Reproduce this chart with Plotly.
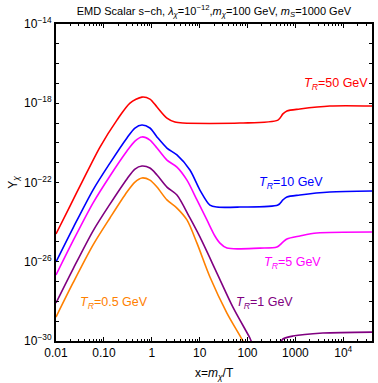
import numpy as np
import plotly.graph_objects as go

# log10(x) and log10(Y)
red_lx = [-2.0, -1.708, -1.436, -1.081, -0.727, -0.455, -0.205, -0.038, 0.109, 0.317, 0.484, 0.651,
          1.841, 2.635, 2.739, 2.823, 3.094, 3.720, 4.6]
red_ly = [-24.60, -23.19, -21.88, -20.21, -18.85, -17.99, -17.69, -17.79, -18.19, -18.75, -18.95, -19.00,
          -19.00, -18.85, -18.54, -18.39, -18.29, -18.14, -18.14]

blue_lx = [-2.0, -1.645, -1.228, -0.873, -0.518, -0.351, -0.205, -0.038, 0.109, 0.317, 0.526, 0.797,
           1.006, 1.215, 1.361, 1.841, 2.635, 2.739, 2.823, 3.094, 3.720, 4.6]
blue_ly = [-26.01, -24.30, -22.38, -21.02, -19.75, -19.25, -19.10, -19.25, -19.70, -20.26, -20.61, -21.37,
           -22.38, -23.14, -23.24, -23.24, -23.14, -22.88, -22.73, -22.63, -22.48, -22.43]

mag_lx = [-2.0, -1.645, -1.228, -0.873, -0.518, -0.351, -0.205, -0.038, 0.109, 0.317, 0.526, 0.735,
          0.944, 1.152, 1.319, 1.424, 1.570, 2.259, 2.614, 2.739, 2.823, 3.094, 3.449, 4.6]
mag_ly = [-26.67, -24.95, -23.04, -21.67, -20.41, -19.91, -19.70, -19.86, -20.26, -20.87, -21.22, -21.88,
          -22.88, -23.89, -24.70, -25.06, -25.31, -25.31, -25.26, -25.01, -24.85, -24.70, -24.55, -24.50]

pur_lx = [-2.0, -1.645, -1.228, -0.873, -0.518, -0.351, -0.205, -0.038, 0.109, 0.317, 0.526, 0.797,
          1.006, 1.361, 1.695, 2.050, 2.175, 2.635, 2.739, 2.948, 3.574, 4.6]
pur_ly = [-28.08, -26.37, -24.45, -23.09, -21.82, -21.32, -21.17, -21.27, -21.62, -22.23, -22.63, -23.79,
          -24.75, -26.57, -28.29, -29.85, -30.46, -30.25, -29.90, -29.75, -29.60, -29.55]

ora_lx = [-2.0, -1.645, -1.228, -0.873, -0.518, -0.351, -0.205, -0.038, 0.109, 0.317, 0.526, 0.735,
          0.944, 1.215, 1.570, 1.904, 2.154]
ora_ly = [-28.79, -27.07, -25.16, -23.79, -22.48, -21.98, -21.77, -21.88, -22.23, -22.88, -23.29, -23.89,
          -25.06, -26.77, -28.59, -30.00, -31.21]

curves = [
    ("T_R=50 GeV", red_lx, red_ly, "#FF0000"),
    ("T_R=10 GeV", blue_lx, blue_ly, "#0000FF"),
    ("T_R=5 GeV", mag_lx, mag_ly, "#FF00FF"),
    ("T_R=1 GeV", pur_lx, pur_ly, "#800080"),
    ("T_R=0.5 GeV", ora_lx, ora_ly, "#FF8000"),
]

# label text and where it sits (x, Y)
labels = [
    ("50 GeV", 7000, 10**-17.05, "#FF0000"),
    ("10 GeV", 800, 10**-22.05, "#0000FF"),
    ("5 GeV", 850, 10**-26.05, "#FF00FF"),
    ("1 GeV", 230, 10**-28.1, "#800080"),
    ("0.5 GeV", 0.16, 10**-28.1, "#FF8000"),
]

fig = go.Figure()
for name, lx, ly, col in curves:
    fig.add_trace(go.Scatter(x=10**np.array(lx), y=10**np.array(ly), mode="lines", name=name,
                             line=dict(color=col, width=1.6, shape="spline", smoothing=0.8)))

for txt, x, y, col in labels:
    fig.add_annotation(x=np.log10(x), y=np.log10(y), text="<i>T</i><sub><i>R</i></sub>=" + txt,
                       showarrow=False, font=dict(color=col, size=12.5))

# axis titles
fig.add_annotation(xref="paper", yref="paper", x=0.5, y=-0.105, yanchor="middle", showarrow=False,
                   text="x=<i>m</i><sub><i>\u03c7</i></sub>/T", font=dict(size=12))
fig.add_annotation(xref="paper", yref="paper", x=-0.135, y=0.5, xanchor="center", showarrow=False,
                   textangle=-90, text="Y<sub><i>\u03c7</i></sub>", font=dict(size=12))

font = "Liberation Sans, Arial, sans-serif"
xminor = [m * 10**d for d in range(-2, 5) for m in range(2, 10)]
yticks = [10**e for e in range(-30, -13)]
ytext = ["10<sup>%d</sup>" % e if e % 4 == 2 else "" for e in range(-30, -13)]
ytext = [t.replace("-", "\u2212") for t in ytext]

fig.update_layout(
    width=378, height=383,
    margin=dict(l=56, r=6, t=24, b=42),
    plot_bgcolor="white", paper_bgcolor="white",
    showlegend=False,
    font=dict(family=font, size=12, color="black"),
    title=dict(text="EMD Scalar s\u2212ch, <i>\u03bb</i><sub><i>\u03c7</i></sub>=10<sup>\u221212</sup>,"
                    "<i>m</i><sub><i>\u03c7</i></sub>=100 GeV, <i>m</i><sub><i>S</i></sub>=1000 GeV",
               x=0.566, xanchor="center", y=0.972, yanchor="middle", font=dict(size=11)),
)
fig.update_xaxes(type="log", range=[-2, 4.6], showgrid=False, zeroline=False, automargin=False,
                 showline=True, linewidth=2, linecolor="black", mirror="allticks",
                 ticks="inside", ticklen=4, tickwidth=1, tickcolor="black",
                 tickvals=[0.01, 0.1, 1, 10, 100, 1000, 10000],
                 ticktext=["0.01", "0.10", "1", "10", "100", "1000", "10<sup>4</sup>"],
                 minor=dict(tickvals=xminor, ticks="inside", ticklen=2, tickcolor="black", showgrid=False))
fig.update_yaxes(type="log", range=[-30, -14], showgrid=False, zeroline=False, automargin=False,
                 showline=True, linewidth=2, linecolor="black", mirror="allticks",
                 ticks="inside", ticklen=3, tickwidth=1, tickcolor="black",
                 tickvals=yticks, ticktext=ytext)

fig.write_html("out.html", config={"displayModeBar": False},
               post_script="document.body.style.margin='0';")
